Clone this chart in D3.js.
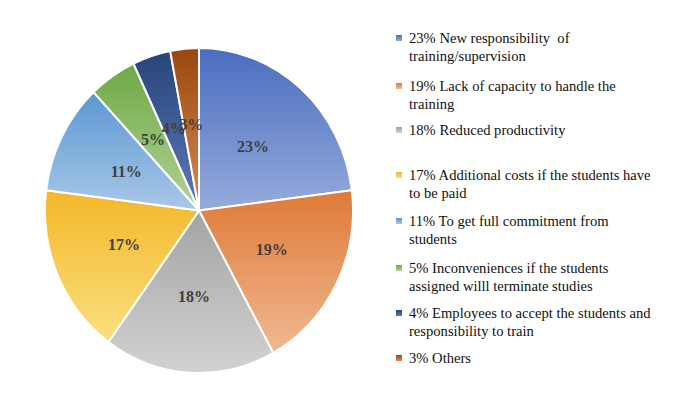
<!DOCTYPE html>
<html><head><meta charset="utf-8">
<script src="https://cdn.jsdelivr.net/npm/d3@7"></script>
<style>html,body{margin:0;padding:0;background:#fff;}svg{display:block;}</style>
</head><body>
<script>
const categories = ["New responsibility  of training/supervision","Lack of capacity to handle the training","Reduced productivity","Additional costs if the students have to be paid","To get full commitment from students","Inconveniences if the students assigned willl terminate studies","Employees to accept the students and responsibility to train","Others"];
const values = [23, 19, 18, 17, 11, 5, 4, 3];
const legendLines = [
  ["23% New responsibility  of", "training/supervision"],
  ["19% Lack of capacity to handle the", "training"],
  ["18% Reduced productivity"],
  ["17% Additional costs if the students have", "to be paid"],
  ["11% To get full commitment from", "students"],
  ["5% Inconveniences if the students", "assigned willl terminate studies"],
  ["4% Employees to accept the students and", "responsibility to train"],
  ["3% Others"]
];
const colorsTop = ["#4a6dbf","#df7a36","#a3a3a3","#f4b728","#5b97d2","#6ea845","#27447a","#9a470f"];
const colorsBottom = ["#96abdb","#f0b992","#d2d2d2","#fadf80","#aac8e8","#b2d494","#5d7bb8","#d88b52"];

const FONT = "'Liberation Serif', 'Times New Roman', 'DejaVu Serif', serif";
const W = 700, H = 398;
const cx = 199, cy = 210.5, R = 154, sy = 1.055;
const svg = d3.select("body").append("svg").attr("width", W).attr("height", H);
const defs = svg.append("defs");
values.forEach((v, i) => {
  const g = defs.append("linearGradient").attr("id", "g" + i).attr("x1", 0).attr("y1", 0).attr("x2", 0).attr("y2", 1);
  g.append("stop").attr("offset", "0%").attr("stop-color", colorsTop[i]);
  g.append("stop").attr("offset", "100%").attr("stop-color", colorsBottom[i]);
});

const pie = d3.pie().sort(null).value(d => d);
const arcs = pie(values);
const arc = d3.arc().innerRadius(0).outerRadius(R);
const labelArc = d3.arc().innerRadius(R * 0.53).outerRadius(R * 0.53);
const gp = svg.append("g").attr("transform", `translate(${cx},${cy}) scale(1,${sy})`);
gp.selectAll("path").data(arcs).join("path")
  .attr("d", arc).attr("fill", (d, i) => `url(#g${i})`)
  .attr("stroke", "#fff").attr("stroke-width", 2).attr("stroke-linejoin", "round")
  .attr("vector-effect", "non-scaling-stroke");
const gl = svg.append("g").attr("transform", `translate(${cx},${cy})`);
gl.selectAll("text").data(arcs).join("text")
  .attr("transform", d => { const c = labelArc.centroid(d); return `translate(${c[0]},${c[1] * sy})`; })
  .attr("text-anchor", "middle").attr("dy", "0.35em")
  .style("font-family", FONT).attr("font-weight", "bold")
  .attr("font-size", 16).attr("fill", "#404040")
  .text(d => d.data + "%");

const legendY = [38, 86, 130, 175, 221, 268, 313, 358];
const lg = svg.append("g");
legendLines.forEach((lines, i) => {
  const y = legendY[i];
  lg.append("rect").attr("x", 396).attr("y", y - 3).attr("width", 6).attr("height", 6)
    .attr("fill", `url(#g${i})`);
  lines.forEach((t, j) => {
    lg.append("text").attr("x", 409).attr("y", y + j * 18).attr("dy", "0.35em")
      .style("font-family", FONT).attr("font-size", 14.6)
      .attr("fill", "#111").style("white-space", "pre").text(t);
  });
});
</script>
</body></html>
